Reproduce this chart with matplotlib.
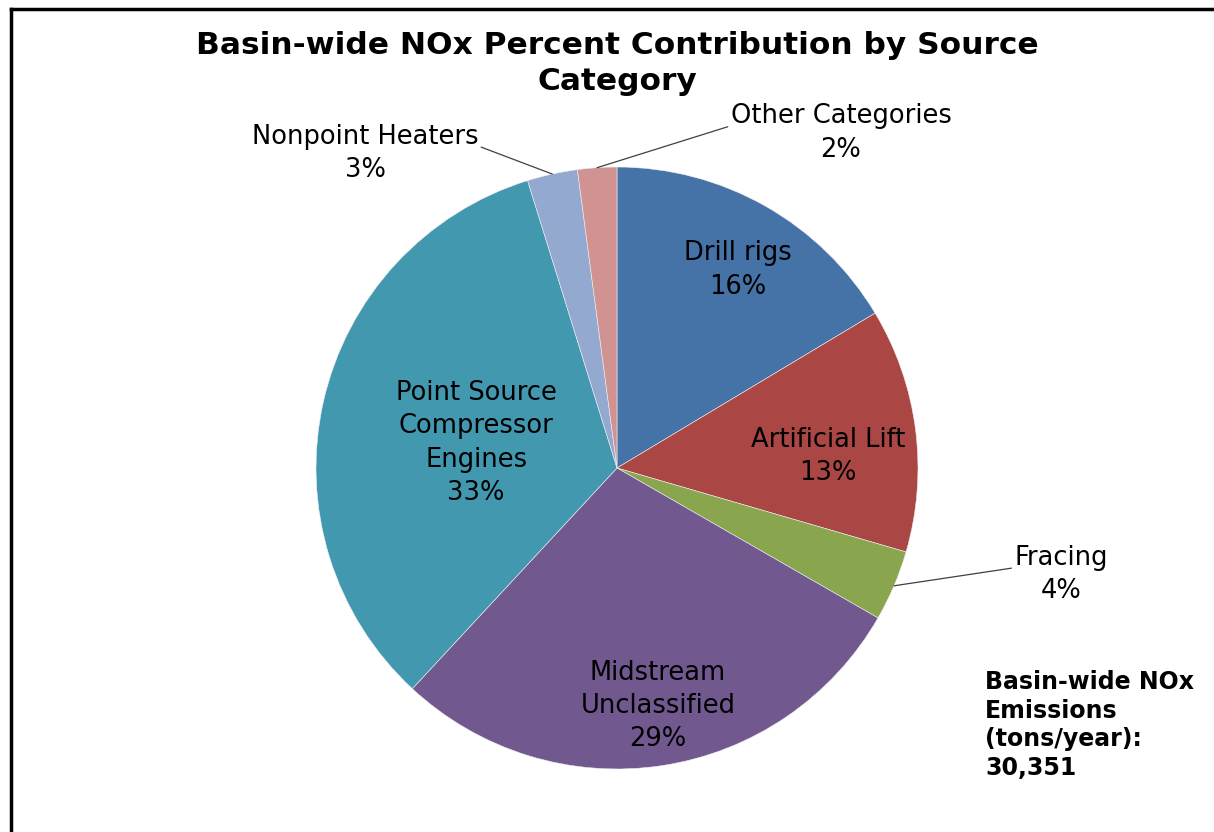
# Basin-wide NOx percent contribution pie chart
import numpy as np
import matplotlib
matplotlib.use("Agg")
import matplotlib.pyplot as plt
from matplotlib.lines import Line2D

plt.rcParams['font.family'] = ['DejaVu Sans']

# data (percent of basin-wide NOx)
categories = ["Drill rigs", "Artificial Lift", "Fracing", "Midstream\nUnclassified",
              "Point Source\nCompressor\nEngines", "Nonpoint Heaters", "Other Categories"]
shares = [16.4, 13.1, 3.8, 28.6, 33.3, 2.7, 2.1]
colors = ["#4572A7", "#AA4643", "#89A54E", "#71588F", "#4198AF", "#93A9CF", "#D19392"]
total_tons = "30,351"

# label spots in pie units (radius = 1); small slices get a leader line
inside_xy = {0: (0.40, 0.658), 1: (0.70, 0.037), 3: (0.136, -0.791), 4: (-0.468, 0.083)}
outside_xy = {2: (1.475, -0.355), 5: (-0.837, 1.046), 6: (0.744, 1.113)}
leader_rel = {2: (0, 0.62), 5: (1, 0.62), 6: (0, 0.62)}

W, H = 1214, 832
fig = plt.figure(figsize=(W / 100, H / 100), dpi=100)

cx, cy, R = 617, 468, 301
ax = fig.add_axes([(cx - R) / W, (H - cy - R) / H, 2 * R / W, 2 * R / H])
wedges, _ = ax.pie(shares, colors=colors, startangle=90, counterclock=False,
                   radius=1.0, wedgeprops=dict(linewidth=0.4, edgecolor="#f0f0f0"))
ax.set_xlim(-1, 1)
ax.set_ylim(-1, 1)
ax.set_aspect("equal")
ax.axis("off")

for i, w in enumerate(wedges):
    label = f"{categories[i]}\n{round(shares[i])}%"
    if i in inside_xy:
        ax.text(*inside_xy[i], label, ha="center", va="center",
                fontsize=18.5, linespacing=1.36, color="black")
    else:
        mid = np.deg2rad((w.theta1 + w.theta2) / 2)
        ax.annotate(label, xy=(np.cos(mid), np.sin(mid)),
                    xytext=outside_xy[i], ha="center", va="center", fontsize=18.5,
                    linespacing=1.36, annotation_clip=False,
                    arrowprops=dict(arrowstyle="-", color="#404040", lw=0.9,
                                    shrinkA=0, shrinkB=0, relpos=leader_rel[i]))

fig.text(617 / W, 1 - 63.5 / H, "Basin-wide NOx Percent Contribution by Source\nCategory",
         ha="center", va="center", fontsize=22.5, fontweight="bold", linespacing=1.3)

fig.text(985 / W, 1 - 725 / H, f"Basin-wide NOx\nEmissions\n(tons/year):\n{total_tons}",
         ha="left", va="center", fontsize=17, fontweight="bold", linespacing=1.23)

# frame lines on the left and top like the original chart area
fig.add_artist(Line2D([11 / W, 11 / W], [0, 1 - 9 / H], transform=fig.transFigure,
                      color="black", lw=2.5))
fig.add_artist(Line2D([11 / W, 1], [1 - 9 / H, 1 - 9 / H], transform=fig.transFigure,
                      color="black", lw=2.5))

fig.savefig("out.png", dpi=100)
